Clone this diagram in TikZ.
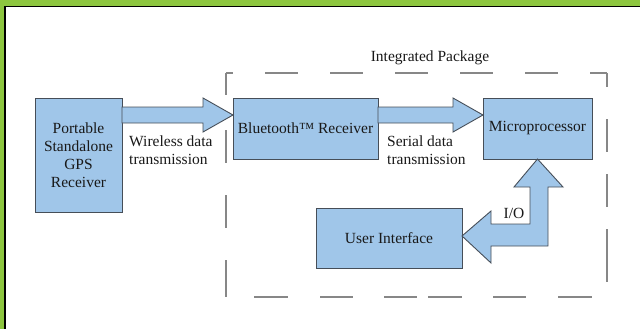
\documentclass[tikz,border=0pt]{standalone}
\usepackage{fontspec}
\setmainfont{Liberation Serif}
\newfontfamily\diagfont{Liberation Serif}
\usetikzlibrary{positioning,calc}
\definecolor{boxblue}{RGB}{160,198,233}
\definecolor{edgegray}{RGB}{70,78,88}
\definecolor{framegreen}{RGB}{141,198,63}
\definecolor{dashgray}{RGB}{135,135,135}

\begin{document}
\begin{tikzpicture}[x=1pt,y=-1pt,
    every node/.style={font=\diagfont\fontsize{15.5}{17.5}\selectfont, text=black!90},
    block/.style={draw=edgegray, fill=boxblue, line width=0.9pt, inner sep=0pt, outer sep=0pt, align=center},
    fatarrow/.style={draw=edgegray, fill=boxblue, line width=0.9pt, line join=miter},
    txt/.style={inner sep=0pt, align=left},
    boundary/.style={dashgray, line width=1.5pt}]
    \useasboundingbox (0,0) rectangle (640,329);

    % Frame
    \fill[framegreen] (0,0) rectangle (640,6);
    \fill[framegreen] (0,0) rectangle (4,329);
    \draw[line width=1.5pt] (5,329) -- (5,6.5) -- (640,6.5);

    % Package boundary
    \coordinate (nw) at (226,73);
    \coordinate (ne) at (607,73);
    \coordinate (se) at (607,297);
    \coordinate (sw) at (226,297);
    \draw[boundary, dash pattern=on 7pt off 32pt on 33pt off 32pt on 33pt off 32pt on 33pt off 32pt on 33pt off 32pt on 33pt off 32pt on 20pt] (nw) -- (ne);
    \draw[boundary, dash pattern=on 14pt off 32pt on 33pt off 22pt on 33pt off 22pt on 53pt off 20pt] (ne) -- (se);
    \draw[boundary, dash pattern=on 0pt off 28pt on 34pt off 32pt on 33pt off 31pt on 33pt off 11pt on 34pt off 31pt on 33pt off 32pt on 34pt off 20pt] (sw) -- (se);
    \draw[boundary, dash pattern=on 22pt off 35pt on 33pt off 32pt on 33pt off 32pt on 40pt] (nw) -- (sw);
    \node[txt] (pkg) at (430,58) {Integrated Package};

    % Blocks
    \node[block, minimum width=87pt, minimum height=114pt, font=\diagfont\fontsize{15.5}{18}\selectfont] (gps) at (78.5,155) {Portable\\Standalone\\GPS\\Receiver};
    \node[block, minimum width=145pt, minimum height=61pt] (bt) at (305.5,128.5) {Bluetooth™ Receiver};
    \node[block, minimum width=109pt, minimum height=61pt] (micro) at (537.5,128.5) {Microprocessor};
    \node[block, minimum width=146pt, minimum height=60pt] (ui) at (389,238) {User Interface};

    % Links
    \draw[fatarrow] (gps.east |- 0,107) -- (203,107) -- (203,98) -- (bt.west |- 0,115)
        -- (203,132) -- (203,123) -- (gps.east |- 0,123) -- cycle;
    \node[txt, anchor=west] (wl) at (129,150) {Wireless data\\transmission};

    \draw[fatarrow] (bt.east |- 0,107) -- (453,107) -- (453,98) -- (micro.west |- 0,115)
        -- (453,132) -- (453,123) -- (bt.east |- 0,123) -- cycle;
    \node[txt, anchor=west] (ser) at (387,150) {Serial data\\transmission};

    \draw[fatarrow] (ui.east |- 0,236) -- (491,211) -- (491,224) -- (530,224) -- (530,187)
        -- (514,187) -- (micro.south) -- (563,187) -- (548,187) -- (548,246)
        -- (491,246) -- (491,263) -- cycle;
    \node[txt] (io) at (514,213) {I/O};
\end{tikzpicture}
\end{document}
